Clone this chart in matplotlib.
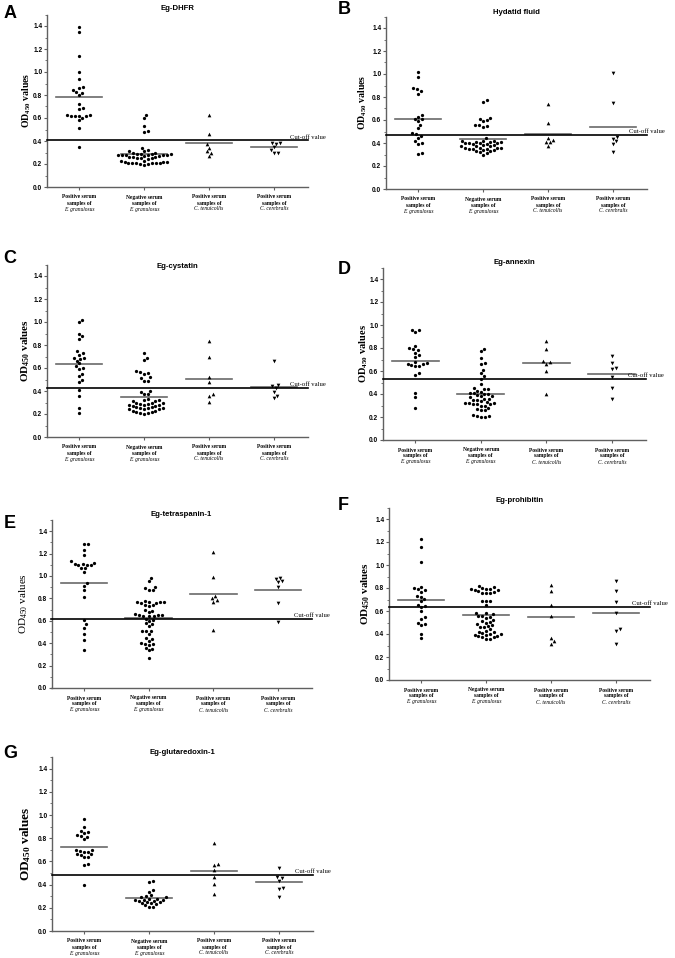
import numpy as np
import matplotlib
matplotlib.use("Agg")
import matplotlib.pyplot as plt
from matplotlib.ticker import MultipleLocator

plt.rcParams.update({
    "mathtext.fontset": "custom",
    "mathtext.rm": "Liberation Serif",
    "mathtext.bf": "Liberation Serif:bold",
    "mathtext.it": "Liberation Serif:italic",
})

SANS = "Liberation Sans"
SERIF = "Liberation Serif"

# ---- data (OD450 values) ----
TITLES = ["Eg-DHFR", "Hydatid fluid", "Eg-cystatin", "Eg-annexin",
          "Eg-tetraspanin-1", "Eg-prohibitin", "Eg-glutaredoxin-1"]
PANEL_LETTERS = ["A", "B", "C", "D", "E", "F", "G"]
CUTOFFS = [0.405, 0.47, 0.428, 0.53, 0.614, 0.635, 0.483]

dhfr_pos_eg = [1.39, 1.35, 1.135, 1.0, 0.935, 0.87, 0.86, 0.84, 0.825, 0.82, 0.80, 0.72,
               0.69, 0.68, 0.625, 0.625, 0.62, 0.62, 0.62, 0.615, 0.6, 0.58, 0.51, 0.35]
dhfr_neg_eg = [0.63, 0.60, 0.53, 0.49, 0.48, 0.34, 0.32, 0.31, 0.31, 0.30, 0.30, 0.29, 0.29,
               0.29, 0.29, 0.28, 0.28, 0.28, 0.28, 0.28, 0.28, 0.27, 0.27, 0.26, 0.26, 0.26,
               0.25, 0.25, 0.25, 0.24, 0.23, 0.23, 0.22, 0.22, 0.22, 0.21, 0.21, 0.21, 0.21,
               0.21, 0.21, 0.20, 0.20, 0.19]
dhfr_ct = [0.63, 0.465, 0.37, 0.34, 0.31, 0.30, 0.27]
dhfr_cc = [0.385, 0.38, 0.375, 0.345, 0.32, 0.30, 0.30]

hf_pos_eg = [1.02, 0.97, 0.88, 0.87, 0.855, 0.83, 0.645, 0.63, 0.61, 0.605, 0.59, 0.56,
             0.53, 0.49, 0.475, 0.465, 0.445, 0.42, 0.40, 0.395, 0.31, 0.305]
hf_neg_eg = [0.77, 0.76, 0.62, 0.61, 0.60, 0.59, 0.56, 0.555, 0.55, 0.54, 0.44, 0.42, 0.42,
             0.42, 0.41, 0.41, 0.41, 0.40, 0.40, 0.40, 0.40, 0.39, 0.39, 0.38, 0.38, 0.37,
             0.37, 0.37, 0.36, 0.36, 0.36, 0.36, 0.35, 0.35, 0.35, 0.34, 0.34, 0.33, 0.33,
             0.32, 0.31, 0.30]
hf_ct = [0.735, 0.575, 0.44, 0.425, 0.41, 0.405, 0.375]
hf_cc = [1.01, 0.745, 0.45, 0.435, 0.415, 0.395, 0.325]

cys_pos_eg = [1.02, 1.0, 0.90, 0.875, 0.855, 0.745, 0.73, 0.715, 0.69, 0.68, 0.685, 0.665,
              0.64, 0.62, 0.60, 0.595, 0.55, 0.53, 0.50, 0.48, 0.41, 0.36, 0.255, 0.21]
cys_neg_eg = [0.73, 0.69, 0.67, 0.57, 0.565, 0.56, 0.55, 0.52, 0.51, 0.49, 0.49, 0.40, 0.39,
              0.37, 0.37, 0.33, 0.32, 0.32, 0.31, 0.31, 0.30, 0.30, 0.30, 0.29, 0.29, 0.28,
              0.28, 0.28, 0.27, 0.27, 0.26, 0.26, 0.25, 0.25, 0.25, 0.24, 0.24, 0.24, 0.23,
              0.23, 0.22, 0.22, 0.21, 0.21, 0.20]
cys_ct = [0.835, 0.695, 0.52, 0.48, 0.37, 0.355, 0.305]
cys_cc = [0.66, 0.455, 0.44, 0.425, 0.395, 0.355, 0.335]

anx_pos_eg = [0.96, 0.955, 0.94, 0.82, 0.80, 0.79, 0.785, 0.76, 0.74, 0.725, 0.68, 0.67,
              0.665, 0.66, 0.65, 0.645, 0.64, 0.585, 0.565, 0.405, 0.37, 0.275]
anx_neg_eg = [0.79, 0.775, 0.71, 0.67, 0.665, 0.61, 0.58, 0.555, 0.53, 0.49, 0.45, 0.44,
              0.44, 0.43, 0.42, 0.41, 0.41, 0.40, 0.40, 0.39, 0.38, 0.38, 0.37, 0.36, 0.36,
              0.35, 0.35, 0.34, 0.33, 0.32, 0.32, 0.32, 0.31, 0.31, 0.31, 0.30, 0.30, 0.28,
              0.27, 0.26, 0.26, 0.22, 0.21, 0.21, 0.20, 0.20]
anx_ct = [0.86, 0.79, 0.685, 0.675, 0.665, 0.60, 0.40]
anx_cc = [0.73, 0.67, 0.625, 0.62, 0.55, 0.455, 0.36]

tsp_pos_eg = [1.29, 1.29, 1.23, 1.19, 1.13, 1.12, 1.11, 1.11, 1.10, 1.10, 1.10, 1.07, 1.07,
              1.035, 0.935, 0.915, 0.875, 0.815, 0.61, 0.57, 0.54, 0.485, 0.425, 0.335]
tsp_neg_eg = [0.985, 0.955, 0.905, 0.89, 0.875, 0.875, 0.775, 0.77, 0.77, 0.765, 0.765,
              0.76, 0.76, 0.74, 0.74, 0.735, 0.70, 0.69, 0.68, 0.66, 0.655, 0.65, 0.65,
              0.645, 0.645, 0.64, 0.62, 0.61, 0.60, 0.58, 0.575, 0.555, 0.51, 0.51, 0.505,
              0.48, 0.45, 0.44, 0.42, 0.40, 0.395, 0.39, 0.38, 0.36, 0.35, 0.335, 0.27]
tsp_ct = [1.21, 0.995, 0.825, 0.80, 0.785, 0.765, 0.515]
tsp_cc = [0.985, 0.975, 0.955, 0.945, 0.905, 0.76, 0.59]

phb_pos_eg = [1.23, 1.16, 1.03, 0.81, 0.80, 0.79, 0.78, 0.765, 0.73, 0.72, 0.705, 0.685,
              0.655, 0.64, 0.635, 0.60, 0.545, 0.53, 0.50, 0.49, 0.48, 0.40, 0.365]
phb_neg_eg = [0.815, 0.81, 0.80, 0.795, 0.79, 0.79, 0.785, 0.78, 0.77, 0.765, 0.76, 0.76,
              0.755, 0.69, 0.69, 0.685, 0.65, 0.585, 0.58, 0.57, 0.56, 0.555, 0.55, 0.54,
              0.52, 0.51, 0.505, 0.50, 0.49, 0.475, 0.47, 0.465, 0.46, 0.44, 0.43, 0.42,
              0.415, 0.41, 0.40, 0.40, 0.395, 0.39, 0.385, 0.38, 0.375, 0.37, 0.36, 0.36]
phb_ct = [0.825, 0.775, 0.65, 0.555, 0.365, 0.335, 0.31]
phb_cc = [0.865, 0.775, 0.68, 0.58, 0.445, 0.43, 0.31]

grx_pos_eg = [0.965, 0.895, 0.865, 0.85, 0.845, 0.825, 0.815, 0.81, 0.79, 0.70, 0.695,
              0.69, 0.685, 0.68, 0.665, 0.66, 0.655, 0.64, 0.635, 0.58, 0.57, 0.40]
grx_neg_eg = [0.43, 0.42, 0.35, 0.34, 0.31, 0.30, 0.29, 0.29, 0.28, 0.28, 0.27, 0.27, 0.27,
              0.26, 0.26, 0.25, 0.25, 0.24, 0.24, 0.23, 0.22, 0.21, 0.21]
grx_ct = [0.755, 0.575, 0.565, 0.525, 0.465, 0.405, 0.32]
grx_cc = [0.54, 0.46, 0.465, 0.435, 0.37, 0.365, 0.295]

PANEL_DATA = [
    [dhfr_pos_eg, dhfr_neg_eg, dhfr_ct, dhfr_cc],
    [hf_pos_eg, hf_neg_eg, hf_ct, hf_cc],
    [cys_pos_eg, cys_neg_eg, cys_ct, cys_cc],
    [anx_pos_eg, anx_neg_eg, anx_ct, anx_cc],
    [tsp_pos_eg, tsp_neg_eg, tsp_ct, tsp_cc],
    [phb_pos_eg, phb_neg_eg, phb_ct, phb_cc],
    [grx_pos_eg, grx_neg_eg, grx_ct, grx_cc],
]

GROUP_LINE1 = ["Positive serum", "Negative serum", "Positive serum", "Positive serum"]
GROUP_LINE2 = ["samples of"] * 4
GROUP_SPECIES = ["E. granulosus", "E. granulosus", "C. tenuicollis", "C. cerebralis"]
MARKERS = ["o", "o", "^", "v"]
MARKER_SIZES = [5.5, 5.5, 7, 7]

# ---- layout (pixel boxes: left edge, y of 0.0, y of 1.5, px per category) ----
FIG_W, FIG_H = 675, 958
PANEL_BOX = [
    (46.5, 187, 14.5, 65.0),
    (385.5, 189, 16.5, 65.0),
    (46.5, 437, 264.5, 65.0),
    (382.5, 440, 267.5, 65.5),
    (51.5, 688, 520, 64.7),
    (388.5, 680, 507.5, 65.0),
    (51.5, 931, 757, 65.0),
]
LETTER_POS = [(10, 13), (344, 10), (10, 258), (344, 269), (10, 523), (343, 505), (10, 753)]
TITLE_DY = [-6, -4.5, 1.5, -5, -6, -7, -4]
YLABEL_SIZE = [7, 7, 8, 7.5, 8, 8, 9.5]
YLABEL_DX = [13.5, 16.5, 14.5, 12.5, 21.5, 16.5, 18.5]
YLABEL_BOLD = [True, True, True, True, False, True, True]
XMIN, XMAX = -0.5, 3.52
YMAX = 1.5
SPINE_COLOR = "#606060"
MEAN_COLOR = "#6a6a6a"


def swarm_offsets(values, px_y, px_x, d=4.0):
    """Greedy beeswarm: place each point as close to centre as possible."""
    vals = np.asarray(values, dtype=float)
    order = np.argsort(vals)
    placed = []
    offs = np.zeros(len(vals))
    for i in order:
        y = vals[i] * px_y
        cands = [0.0]
        for px, py in placed:
            dy = y - py
            if abs(dy) < d:
                dx = np.sqrt(d * d - dy * dy)
                cands += [px + dx, px - dx]
        cands.sort(key=abs)
        for c in cands:
            ok = all((c - px) ** 2 + (y - py) ** 2 >= d * d - 1e-6 for px, py in placed)
            if ok:
                break
        placed.append((c, y))
        offs[i] = c / px_x
    return offs


fig = plt.figure(figsize=(FIG_W / 100, FIG_H / 100), dpi=100)

for k in range(7):
    left, y0, ytop, ppc = PANEL_BOX[k]
    width_px = (XMAX - XMIN) * ppc
    height_px = y0 - ytop
    ax = fig.add_axes([left / FIG_W, 1 - y0 / FIG_H, width_px / FIG_W, height_px / FIG_H])
    ax.set_xlim(XMIN, XMAX)
    ax.set_ylim(0, YMAX)
    px_y = height_px / YMAX

    for g, vals in enumerate(PANEL_DATA[k]):
        offs = swarm_offsets(vals, px_y, ppc)
        ax.scatter(g + offs, vals, s=MARKER_SIZES[g], marker=MARKERS[g], color="black",
                   linewidths=0, zorder=3, clip_on=False)
        m = np.mean(vals)
        ax.plot([g - 0.36, g + 0.36], [m, m], color=MEAN_COLOR, lw=1.2, zorder=2)

    ax.plot([XMIN, XMAX], [CUTOFFS[k]] * 2, color="black", lw=1.2, zorder=4, clip_on=False)
    ax.text(3.25, CUTOFFS[k] + 0.008, "Cut-off value", fontsize=4.8, family=SERIF,
            ha="left", va="bottom", clip_on=False)

    for s in ["top", "right"]:
        ax.spines[s].set_visible(False)
    for s in ["left", "bottom"]:
        ax.spines[s].set_color(SPINE_COLOR)
        ax.spines[s].set_linewidth(1.0)

    ax.yaxis.set_minor_locator(MultipleLocator(0.1))
    ax.set_yticks(np.arange(0, 1.41, 0.2))
    ax.set_yticklabels([f"{v:.1f}" for v in np.arange(0, 1.41, 0.2)],
                       fontsize=4.7, fontweight="bold", family=SANS)
    ax.tick_params(axis="y", which="major", length=2, width=0.8, color=SPINE_COLOR, pad=1)
    ax.tick_params(axis="y", which="minor", length=1.2, width=0.6, color=SPINE_COLOR)
    ax.set_xticks(range(4))
    ax.set_xticklabels([])
    ax.tick_params(axis="x", length=2, width=0.8, color=SPINE_COLOR)

    for g in range(4):
        for txt, dy, style, weight in ((GROUP_LINE1[g], 10, "normal", "bold"),
                                       (GROUP_LINE2[g], 16, "normal", "bold"),
                                       (GROUP_SPECIES[g], 22, "italic", "normal")):
            ax.annotate(txt, xy=(g, 0), xycoords=("data", "axes fraction"),
                        xytext=(0, -dy * 0.72), textcoords="offset points",
                        ha="center", va="center", fontsize=4.0, family=SERIF,
                        style=style, fontweight=weight)

    ax.text(0.5, 1 - TITLE_DY[k] / height_px, TITLES[k], transform=ax.transAxes,
            ha="center", va="center", fontsize=5.6, fontweight="bold", family=SANS)

    if YLABEL_BOLD[k]:
        lab = r"OD$_{\mathbf{450}}$ values"
        wt = "bold"
    else:
        lab = r"OD$_{\mathrm{450}}$ values"
        wt = "normal"
    ax.set_ylabel(lab, fontsize=YLABEL_SIZE[k], family=SERIF, fontweight=wt)
    ax.yaxis.set_label_coords(-YLABEL_DX[k] / width_px, 0.5)

    lx, ly = LETTER_POS[k]
    fig.text(lx / FIG_W, 1 - ly / FIG_H, PANEL_LETTERS[k], fontsize=13, fontweight="bold",
             family=SANS, ha="center", va="center")

fig.savefig("out.png", dpi=100)
